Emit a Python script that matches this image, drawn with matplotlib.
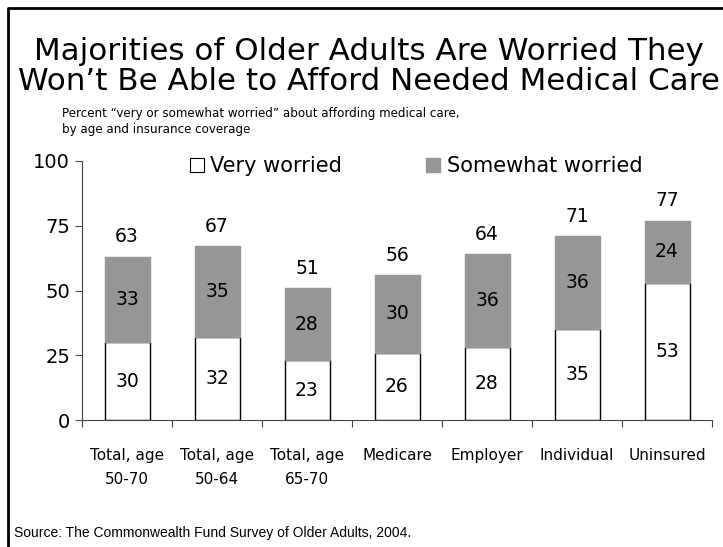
import matplotlib
matplotlib.use("Agg")
import matplotlib.pyplot as plt
from matplotlib.patches import Patch
from matplotlib.lines import Line2D

categories = ["Total, age\n50-70", "Total, age\n50-64", "Total, age\n65-70",
              "Medicare", "Employer", "Individual", "Uninsured"]
very = [30, 32, 23, 26, 28, 35, 53]
somewhat = [33, 35, 28, 30, 36, 36, 24]
totals = [63, 67, 51, 56, 64, 71, 77]
yticks = [0, 25, 50, 75, 100]

FONT = ["DejaVu Sans"]
GRAY = "#969696"

fig = plt.figure(figsize=(7.23, 5.47), dpi=100)
ax = fig.add_axes([82/723, 1 - 420/547, (712-82)/723, (420-161)/547])

x = list(range(len(categories)))
ax.bar(x, very, width=0.5, color="white", edgecolor="black", linewidth=1)
ax.bar(x, somewhat, bottom=very, width=0.5, color=GRAY, edgecolor=GRAY, linewidth=1)

for i in x:
    ax.text(i, very[i] / 2, str(very[i]), ha="center", va="center", fontsize=13.5, family=FONT)
    ax.text(i, very[i] + somewhat[i] / 2, str(somewhat[i]), ha="center", va="center", fontsize=13.5, family=FONT)
    ax.text(i, totals[i] + 4, str(totals[i]), ha="center", va="bottom", fontsize=13.5, family=FONT)

ax.set_xlim(-0.5, len(categories) - 0.5)
ax.set_ylim(0, 100)
ax.set_yticks(yticks)
ax.set_yticklabels([str(t) for t in yticks], fontsize=14, family=FONT)
ax.set_xticks([i + 0.5 for i in range(-1, len(categories))])
ax.set_xticklabels([])
for i, c in enumerate(categories):
    ax.text(i, -11, c, ha="center", va="top", fontsize=11, family=FONT, linespacing=1.75)
ax.tick_params(axis="both", direction="out", length=5, color="#444444")
for s in ["top", "right"]:
    ax.spines[s].set_visible(False)
for s in ["left", "bottom"]:
    ax.spines[s].set_color("#444444")

handles = [Patch(facecolor="white", edgecolor="black", linewidth=0.8),
           Patch(facecolor=GRAY, edgecolor=GRAY)]
leg = ax.legend(handles, ["Very worried", "Somewhat worried"], ncol=2, frameon=False,
                loc="center", bbox_to_anchor=(0.53, 0.98),
                prop={"family": FONT, "size": 15}, handlelength=0.7, handleheight=0.7,
                handletextpad=0.3, columnspacing=4.0)

fig.text(0.51, 1 - 51/547, "Majorities of Older Adults Are Worried They",
         ha="center", va="center", fontsize=22.3, family=FONT)
fig.text(0.51, 1 - 81/547, "Won\u2019t Be Able to Afford Needed Medical Care",
         ha="center", va="center", fontsize=22.3, family=FONT)
fig.text(62/723, 1 - 113/547, "Percent \u201cvery or somewhat worried\u201d about affording medical care,",
         ha="left", va="center", fontsize=8.6, family=FONT)
fig.text(62/723, 1 - 130/547, "by age and insurance coverage",
         ha="left", va="center", fontsize=8.6, family=FONT)
fig.text(14/723, 1 - 533/547, "Source: The Commonwealth Fund Survey of Older Adults, 2004.",
         ha="left", va="center", fontsize=10, family=["Liberation Sans"])

fig.add_artist(Line2D([8/723, 8/723, 1.0], [0.0, 1 - 8/547, 1 - 8/547],
                      transform=fig.transFigure, color="black", linewidth=2))

fig.savefig("out.png", dpi=100)
